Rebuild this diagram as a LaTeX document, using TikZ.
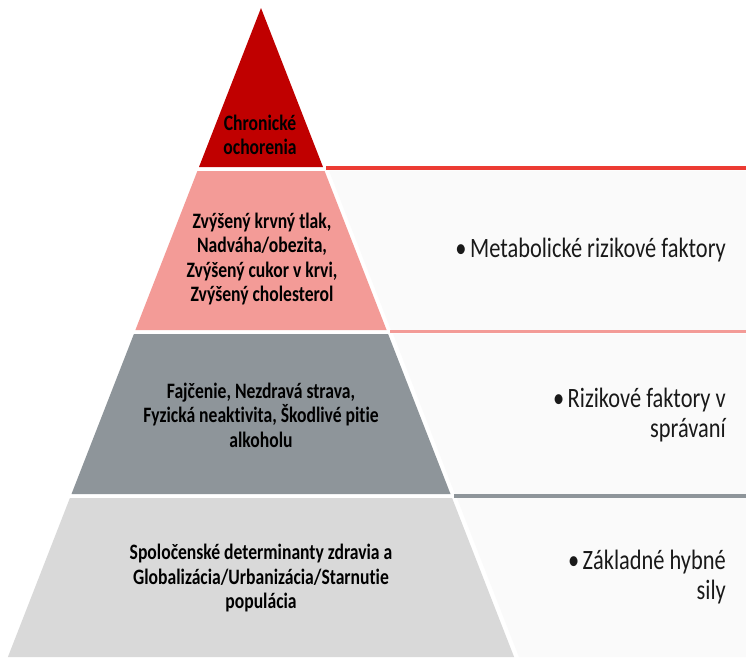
\documentclass[tikz,border=0pt]{standalone}
\usepackage{fontspec}
\setmainfont{Carlito}[FakeStretch=0.8,Ligatures=NoCommon]

\definecolor{chronred}{HTML}{C00000}
\definecolor{metapink}{HTML}{F39B97}
\definecolor{behavgray}{HTML}{8E959A}
\definecolor{basegray}{HTML}{D9D9D9}
\definecolor{linered}{HTML}{EC3B33}
\definecolor{panelfill}{HTML}{FAFAFA}

\tikzset{
  pyrtext/.style={align=center, inner sep=0pt, text=black, font=\bfseries\fontsize{22}{24.5}\selectfont},
  sidetext/.style={align=right, anchor=east, inner sep=0pt, text=black!90, font=\fontsize{28}{29.5}\selectfont},
  sepline/.style={line width=4pt}
}

\newcommand{\sidebullet}{•\hspace{3.5pt}}

\begin{document}
\begin{tikzpicture}[x=1pt,y=-1pt]

\useasboundingbox [fill=white] (0,0) rectangle (746,657);

% pyramid
\fill [chronred] (261,8) -- (323,167) -- (199,167) -- cycle;

\fill [metapink] (197.4,171) -- (324.6,171) -- (386.6,330) -- (135.4,330) -- cycle;

\fill [behavgray] (133.9,334) -- (388.1,334) -- (450.5,494) -- (71.5,494) -- cycle;

\fill [basegray] (69.9,498) -- (452.1,498) -- (514.1,657) -- (7.9,657) -- cycle;

% side panels
\fill [panelfill] (329,170.5) -- (746,170.5) -- (746,330) -- (391,330) -- cycle;

\fill [panelfill] (393,333.5) -- (746,333.5) -- (746,494) -- (455,494) -- cycle;

\fill [panelfill] (457,498) -- (746,498) -- (746,657) -- (519,657) -- cycle;

\draw [sepline,linered] (326,168.3) -- (746,168.3);

\draw [sepline,metapink,line width=3.5pt] (390,331.7) -- (746,331.7);

\draw [sepline,behavgray] (454,496) -- (746,496);

% texts
\node [pyrtext] (chron) at (260,135) {Chronické\\ochorenia};

\node [pyrtext] (meta) at (262,259) {Zvýšený krvný tlak,\\Nadváha/obezita,\\Zvýšený cukor v krvi,\\Zvýšený cholesterol};

\node [pyrtext] (behav) at (261,415) {Fajčenie, Nezdravá strava,\\Fyzická neaktivita, Škodlivé pitie\\alkoholu};

\node [pyrtext] (basic) at (261,578) {Spoločenské determinanty zdravia a\\Globalizácia/Urbanizácia/Starnutie\\populácia};

\node [sidetext] (metaside) at (726,250) {\sidebullet Metabolické rizikové faktory};

\node [sidetext] (behavside) at (726,415) {\sidebullet Rizikové faktory v\\správaní};

\node [sidetext] (basicside) at (726,577) {\sidebullet Základné hybné\\sily};

\end{tikzpicture}
\end{document}
